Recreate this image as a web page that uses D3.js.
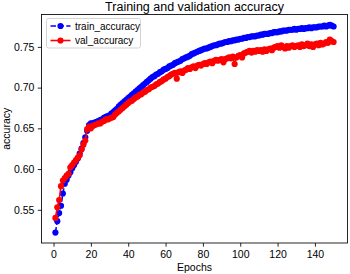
<!DOCTYPE html>
<html lang="en">
<head>
    <meta charset="UTF-8">
    <title>Training and validation accuracy</title>
    <script src="https://d3js.org/d3.v7.min.js"></script>
    <style>
        body { margin: 0; background: #fff; }
        svg { display: block; font-family: "Liberation Sans", Arial, sans-serif; }
        .tick text { font-size: 10.5px; fill: #000; }
        .axis path, .axis line { stroke: #000; stroke-width: 0.85; }
    </style>
</head>
<body>
<svg width="350" height="274"></svg>
<script>
    // accuracy per epoch
    const trainAcc = [
        0.522, 0.536, 0.546, 0.555, 0.570, 0.582, 0.587, 0.592, 0.596, 0.601,
        0.605, 0.609, 0.613, 0.619, 0.625, 0.632, 0.639, 0.647, 0.654, 0.656,
        0.656, 0.657, 0.658, 0.659, 0.660, 0.661, 0.663, 0.664, 0.665, 0.666,
        0.668, 0.670, 0.672, 0.674, 0.677, 0.679, 0.681, 0.683, 0.685, 0.687,
        0.689, 0.691, 0.693, 0.695, 0.697, 0.699, 0.701, 0.703, 0.705, 0.707,
        0.709, 0.711, 0.713, 0.714, 0.716, 0.717, 0.719, 0.720, 0.722, 0.723,
        0.724, 0.726, 0.727, 0.728, 0.730, 0.731, 0.732, 0.733, 0.735, 0.736,
        0.737, 0.738, 0.739, 0.741, 0.742, 0.743, 0.744, 0.745, 0.746, 0.747,
        0.748, 0.748, 0.749, 0.750, 0.751, 0.752, 0.752, 0.753, 0.754, 0.754,
        0.755, 0.756, 0.756, 0.757, 0.757, 0.758, 0.758, 0.759, 0.759, 0.760,
        0.760, 0.761, 0.761, 0.762, 0.762, 0.763, 0.763, 0.763, 0.764, 0.764,
        0.765, 0.765, 0.766, 0.766, 0.766, 0.767, 0.767, 0.768, 0.768, 0.768,
        0.769, 0.769, 0.770, 0.770, 0.770, 0.771, 0.771, 0.771, 0.772, 0.771,
        0.772, 0.772, 0.773, 0.772, 0.773, 0.773, 0.774, 0.773, 0.774, 0.774,
        0.774, 0.775, 0.775, 0.775, 0.776, 0.775, 0.776, 0.777, 0.776, 0.775
    ];
    const valAcc = [
        0.540, 0.553, 0.562, 0.579, 0.586, 0.589, 0.592, 0.594, 0.602, 0.605,
        0.608, 0.611, 0.614, 0.617, 0.624, 0.630, 0.635, 0.649, 0.652, 0.650,
        0.653, 0.654, 0.655, 0.656, 0.656, 0.658, 0.659, 0.661, 0.661, 0.662,
        0.663, 0.664, 0.667, 0.669, 0.671, 0.673, 0.675, 0.677, 0.679, 0.681,
        0.683, 0.684, 0.686, 0.688, 0.689, 0.691, 0.692, 0.694, 0.695, 0.697,
        0.698, 0.700, 0.701, 0.702, 0.704, 0.705, 0.707, 0.708, 0.710, 0.711,
        0.713, 0.714, 0.716, 0.717, 0.718, 0.711, 0.719, 0.720, 0.718, 0.721,
        0.722, 0.724, 0.723, 0.725, 0.726, 0.724, 0.727, 0.728, 0.727, 0.729,
        0.730, 0.729, 0.731, 0.732, 0.730, 0.733, 0.734, 0.733, 0.734, 0.735,
        0.731, 0.735, 0.736, 0.737, 0.736, 0.738, 0.729, 0.737, 0.739, 0.740,
        0.737, 0.742, 0.743, 0.744, 0.745, 0.743, 0.745, 0.744, 0.746, 0.745,
        0.746, 0.744, 0.747, 0.745, 0.747, 0.748, 0.746, 0.749, 0.750, 0.751,
        0.749, 0.752, 0.750, 0.748, 0.751, 0.749, 0.751, 0.752, 0.750, 0.751,
        0.752, 0.750, 0.753, 0.751, 0.752, 0.754, 0.751, 0.753, 0.750, 0.753,
        0.754, 0.752, 0.755, 0.753, 0.754, 0.756, 0.755, 0.759, 0.757, 0.756
    ];
    const epochs = trainAcc.map((d, i) => i + 1);
    const xTicks = [0, 20, 40, 60, 80, 100, 120, 140];
    const yTicks = [0.55, 0.60, 0.65, 0.70, 0.75];
    const seriesNames = ["train_accuracy", "val_accuracy"];

    const margin = { top: 14.5, right: 2.5, bottom: 31, left: 41.5 };
    const width = 350 - margin.left - margin.right;
    const height = 274 - margin.top - margin.bottom;

    const svg = d3.select("svg");
    const g = svg.append("g")
        .attr("transform", `translate(${margin.left},${margin.top})`);

    // matplotlib style 5% padding
    const xMin = d3.min(epochs), xMax = d3.max(epochs);
    const xPad = (xMax - xMin) * 0.05;
    const x = d3.scaleLinear()
        .domain([xMin - xPad, xMax + xPad])
        .range([0, width]);

    const allVals = trainAcc.concat(valAcc);
    const yMin = d3.min(allVals), yMax = d3.max(allVals);
    const yPad = (yMax - yMin) * 0.05;
    const y = d3.scaleLinear()
        .domain([yMin - yPad, yMax + yPad])
        .range([height, 0]);

    const series = [
        { name: seriesNames[0], values: trainAcc, color: "#0000ff", dash: "5.5,2.4" },
        { name: seriesNames[1], values: valAcc, color: "#ff0000", dash: null }
    ];

    const line = d3.line()
        .x((d, i) => x(epochs[i]))
        .y(d => y(d));

    series.forEach(s => {
        const sg = g.append("g");
        sg.append("path")
            .datum(s.values)
            .attr("fill", "none")
            .attr("stroke", s.color)
            .attr("stroke-width", 1.6)
            .attr("stroke-dasharray", s.dash)
            .attr("d", line);
        sg.selectAll("circle")
            .data(s.values)
            .enter().append("circle")
            .attr("cx", (d, i) => x(epochs[i]))
            .attr("cy", d => y(d))
            .attr("r", 3.1)
            .attr("fill", s.color);
    });

    // axes
    g.append("g")
        .attr("class", "axis")
        .attr("transform", `translate(0,${height})`)
        .call(d3.axisBottom(x).tickValues(xTicks).tickSize(3.7).tickPadding(3.5).tickSizeOuter(0))
        .call(a => a.select(".domain").remove());

    g.append("g")
        .attr("class", "axis")
        .call(d3.axisLeft(y).tickValues(yTicks).tickFormat(d3.format(".2f")).tickSize(3.7).tickPadding(3.5).tickSizeOuter(0))
        .call(a => a.select(".domain").remove());

    // frame
    g.append("rect")
        .attr("width", width)
        .attr("height", height)
        .attr("fill", "none")
        .attr("stroke", "#000")
        .attr("stroke-width", 0.85);

    // title and labels
    svg.append("text")
        .attr("x", margin.left + width / 2)
        .attr("y", 10.8)
        .attr("text-anchor", "middle")
        .style("font-size", "12.5px")
        .text("Training and validation accuracy");

    svg.append("text")
        .attr("x", margin.left + width / 2)
        .attr("y", 270.5)
        .attr("text-anchor", "middle")
        .style("font-size", "10.5px")
        .text("Epochs");

    svg.append("text")
        .attr("transform", `translate(9.8,${margin.top + height / 2}) rotate(-90)`)
        .attr("text-anchor", "middle")
        .style("font-size", "10.5px")
        .text("accuracy");

    // legend
    const legend = g.append("g").attr("transform", "translate(5,4)");
    legend.append("rect")
        .attr("width", 94)
        .attr("height", 29.5)
        .attr("rx", 2)
        .attr("fill", "#fff")
        .attr("fill-opacity", 0.8)
        .attr("stroke", "#cccccc")
        .attr("stroke-width", 0.85);

    series.forEach((s, i) => {
        const row = legend.append("g").attr("transform", `translate(4,${7.5 + i * 14.5})`);
        row.append("line")
            .attr("x1", 0).attr("x2", 20)
            .attr("stroke", s.color)
            .attr("stroke-width", 1.6)
            .attr("stroke-dasharray", s.dash);
        row.append("circle")
            .attr("cx", 10).attr("r", 3.1)
            .attr("fill", s.color);
        row.append("text")
            .attr("x", 24.5)
            .attr("dy", "0.35em")
            .style("font-size", "10px")
            .text(s.name);
    });
</script>
</body>
</html>
